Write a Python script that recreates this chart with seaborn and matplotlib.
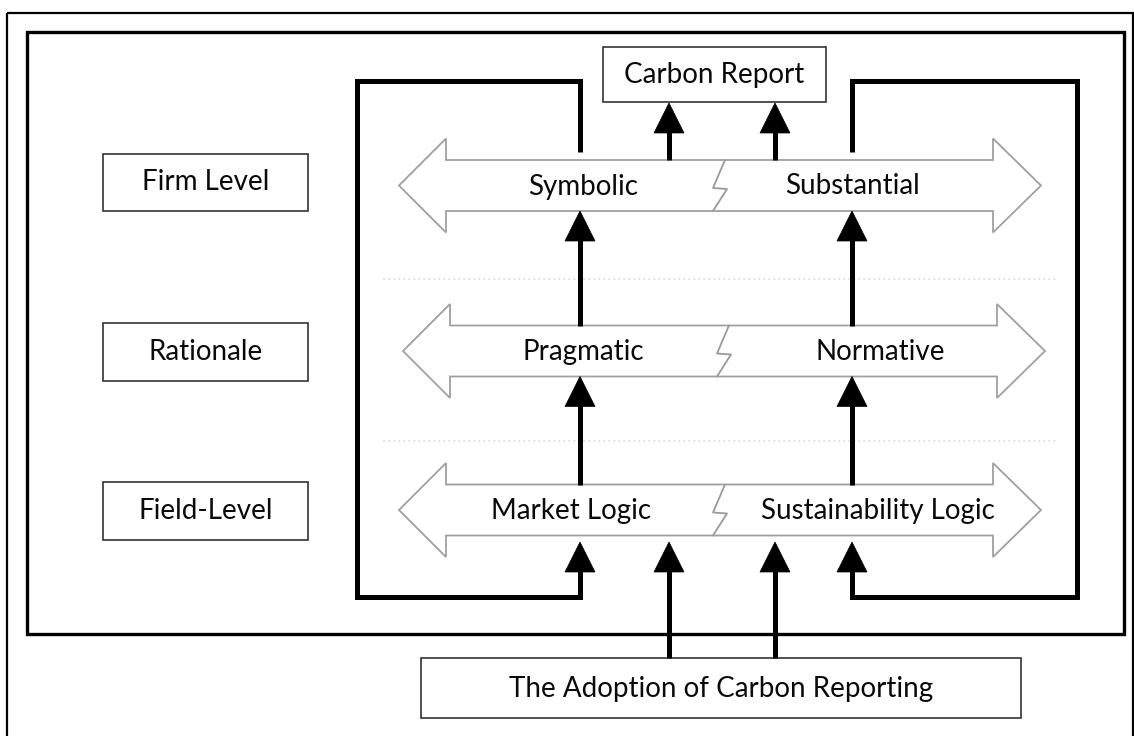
import matplotlib
matplotlib.use("Agg")
import matplotlib.pyplot as plt
from matplotlib.patches import Polygon, Rectangle
import seaborn as sns

# ---- content ----
level_labels = ["Firm Level", "Rationale", "Field-Level"]
left_labels = ["Symbolic", "Pragmatic", "Market Logic"]
right_labels = ["Substantial", "Normative", "Sustainability Logic"]
top_label = "Carbon Report"
bottom_label = "The Adoption of Carbon Reporting"

sns.set_theme(style="white")
plt.rcParams['font.family'] = ['Lato', 'DejaVu Sans']

W, H = 1134, 736
fig = plt.figure(figsize=(W / 100, H / 100), dpi=100)
ax = fig.add_axes([0, 0, 1, 1])
ax.set_xlim(0, W)
ax.set_ylim(H, 0)
ax.axis("off")

FS = 20
LW_THICK = 3.6
TXT = "#0a0a0a"


def poly_line(xs, ys, lw=LW_THICK, color="black", z=3):
    sns.lineplot(x=xs, y=ys, sort=False, estimator=None, color=color,
                 linewidth=lw, ax=ax, zorder=z,
                 solid_joinstyle="miter", solid_capstyle="butt")


def head(x, tip_y, size=30, z=4):
    ax.add_patch(Polygon([(x, tip_y), (x - size / 2, tip_y + size),
                          (x + size / 2, tip_y + size)], closed=True,
                         facecolor="black", edgecolor="black", lw=0.5, zorder=z))


def arrow_up(x, y0, tip_y):
    poly_line([x, x], [y0, tip_y + 25])
    head(x, tip_y)


def box(x0, y0, x1, y1, lw=1.2, color="#333333", z=2):
    ax.add_patch(Rectangle((x0, y0), x1 - x0, y1 - y0, facecolor="white",
                           edgecolor=color, lw=lw, zorder=z))


# frames
ax.add_patch(Rectangle((7, 13), 1126, 730, fill=False, edgecolor="black",
                       lw=1.6, zorder=1))
ax.add_patch(Rectangle((27, 32), 1097, 602, fill=False, edgecolor="black",
                       lw=2.4, zorder=1))

# faint dotted separators
for yy in (279, 441):
    ax.plot([383, 1058], [yy, yy], color="#e4e4e4", lw=1.2, ls=(0, (1.5, 1.5)), zorder=1)

# double arrows (bands)
bands = [  # cx offset, center y
    (0, 185.5),
    (4, 351),
    (0, 510),
]
left_x = [583, 583, 571]
right_x = [852, 880, 878]
for i, (dx, cy) in enumerate(bands):
    lt, lb, rb, rt = 399 + dx, 446 + dx, 993 + dx, 1041 + dx
    bh, hh = 25.5, 47
    pts = [(lt, cy), (lb, cy - hh), (lb, cy - bh), (rb, cy - bh), (rb, cy - hh),
           (rt, cy), (rb, cy + hh), (rb, cy + bh), (lb, cy + bh), (lb, cy + hh)]
    ax.add_patch(Polygon(pts, closed=True, facecolor="white", edgecolor="#a0a0a0",
                         lw=1.3, zorder=2, joinstyle="miter"))
    zx = 725 + dx
    ax.plot([zx, zx - 12, zx + 2, zx - 12],
            [cy - bh, cy + 2.5, cy + 3.5, cy + bh], color="#9a9a9a", lw=1.3, zorder=2.5)
    ax.text(left_x[i], cy + 1, left_labels[i], fontsize=FS,
            ha="center", va="center", color=TXT, zorder=5)
    ax.text(right_x[i], cy + 1, right_labels[i], fontsize=FS,
            ha="center", va="center", color=TXT, zorder=5)

# left level boxes
for lab, (y0, y1) in zip(level_labels, [(154, 211), (323, 381), (482, 540)]):
    box(103, y0, 308, y1)
    ax.text(205.5, (y0 + y1) / 2, lab, fontsize=FS, ha="center", va="center",
            color=TXT, zorder=5)

# top Carbon Report box
box(603, 47, 826, 102)
ax.text(714.5, 75, top_label, fontsize=FS, ha="center", va="center",
        color=TXT, zorder=5)

# bottom Adoption box
box(421, 658, 1021, 718)
ax.text(721, 689, bottom_label, fontsize=FS, ha="center", va="center",
        color=TXT, zorder=5)

# arrows to Carbon Report
for x in (669, 775):
    arrow_up(x, 160, 103)

# arrows between bands
for x in (580, 852):
    arrow_up(x, 325.5, 211)
    arrow_up(x, 484.5, 376.5)

# arrows from adoption box
for x in (669, 775):
    arrow_up(x, 658, 542)

# feedback brackets
poly_line([580, 580, 357, 357, 580, 580], [152, 81, 81, 597, 597, 567])
head(580, 542)
poly_line([852, 852, 1077, 1077, 852, 852], [152, 81, 81, 597, 597, 567])
head(852, 542)

fig.savefig("out.png", dpi=100, facecolor="white")
